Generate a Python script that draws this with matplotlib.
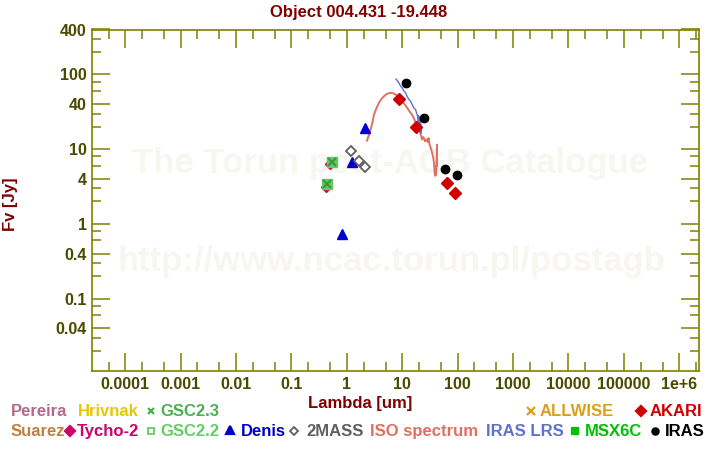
import matplotlib
matplotlib.use("Agg")
import matplotlib.pyplot as plt
from matplotlib.ticker import FixedLocator, NullFormatter, FixedFormatter
from matplotlib.lines import Line2D

plt.rcParams['font.family'] = ['Liberation Sans', 'DejaVu Sans']
plt.rcParams['font.weight'] = 'bold'

# ---------------- data ----------------
title = "Object 004.431 -19.448"

iso_wave = [2.31, 2.5, 2.69, 2.9, 3.08, 3.4, 3.78, 4.2, 4.66, 5.3, 6.14, 6.8, 7.55, 8.6,
            9.9, 11.0, 12.2, 13.5, 15.0, 16.5, 18.5, 20.5, 22.0, 22.7, 24.0, 26.0, 27.5,
            29.0, 29.9, 31.0, 32.0, 33.5, 35.2, 36.5, 37.5, 38.3, 39.0, 39.6, 40.5, 41.2,
            42.2, 42.5]
iso_flux = [13.0, 15.5, 18.3, 23.0, 29.0, 35.0, 41.7, 47.0, 51.0, 55.0, 57.0, 56.0, 54.0, 50.0,
            44.0, 40.0, 36.0, 32.0, 29.0, 25.0, 21.0, 17.5, 15.0, 13.5, 14.5, 12.7, 13.5,
            12.5, 14.1, 11.5, 10.9, 9.8, 8.5, 7.5, 6.2, 5.0, 4.4, 6.0, 4.5, 5.2,
            11.5, 6.0]

lrs_wave = [7.7, 8.2, 8.8, 9.3, 10.0, 10.7, 11.4, 12.2, 13.0, 14.0, 15.0, 16.0, 17.3,
            18.3, 19.0, 19.5, 19.8, 20.2, 20.6, 21.0, 21.4, 21.8, 22.3]
lrs_flux = [87, 82, 76, 70, 66, 60, 57, 51, 47, 44, 40, 36, 34,
            30, 27, 22, 28, 18, 26, 17, 24, 16.5, 20]

tycho_wave = [0.42, 0.49]
tycho_flux = [3.14, 6.25]
gsc22_wave = [0.443, 0.545]
gsc22_flux = [3.44, 6.8]
gsc23_wave = [0.443, 0.545]
gsc23_flux = [3.44, 6.8]
denis_wave = [0.81, 1.22, 2.12]
denis_flux = [0.73, 6.7, 19.0]
tmass_wave = [1.2, 1.67, 2.15]
tmass_flux = [9.34, 7.0, 5.82]
akari_wave = [8.8, 17.9, 65.0, 90.0]
akari_flux = [47.6, 20.0, 3.55, 2.61]
iras_wave = [11.8, 25.0, 60.0, 98.0]
iras_flux = [78.0, 26.5, 5.47, 4.55]

x_major = [1e-4, 1e-3, 1e-2, 1e-1, 1, 10, 100, 1e3, 1e4, 1e5, 1e6]
x_labels = ["0.0001", "0.001", "0.01", "0.1", "1", "10", "100", "1000", "10000", "100000", "1e+6"]
y_major = [400, 100, 40, 10, 4, 1, 0.4, 0.1, 0.04]
y_labels = ["400", "100", "40", "10", "4", "1", "0.4", "0.1", "0.04"]

# ---------------- styles ----------------
OLIVE = '#808000'
TICKTXT = '#4a4a00'
DARKRED = '#800000'
W, H = 720, 450

fig = plt.figure(figsize=(7.2, 4.5), dpi=100)
fig.patch.set_facecolor('white')

def fx(px):
    return px / W

def fy(py):
    return 1 - py / H

ax = fig.add_axes([fx(92.5), fy(371), (699 - 92.5) / W, (371 - 29.5) / H])
ax.set_xscale('log')
ax.set_yscale('log')
ax.set_xlim(10 ** -4.592, 10 ** 6.356)
ax.set_ylim(10 ** -1.97, 400)

# watermark
ax.text(0.5 + (390 - 395.75) / 606.5, 1 - (163 - 29.5) / 341.5, "The Torun post-AGB Catalogue",
        transform=ax.transAxes, ha='center', va='center', fontsize=25, color='#f8f6f0',
        fontweight='bold', zorder=0)
ax.text(0.5 + (391 - 395.75) / 606.5, 1 - (262 - 29.5) / 341.5, "http://www.ncac.torun.pl/postagb",
        transform=ax.transAxes, ha='center', va='center', fontsize=25, color='#f8f6f0',
        fontweight='bold', zorder=0)

# spectra
ax.plot(iso_wave, iso_flux, color='#e07060', lw=1.4, zorder=2)
ax.plot(lrs_wave, lrs_flux, color='#6070d8', lw=1.0, zorder=3)

# photometry
ax.plot(tycho_wave, tycho_flux, ls='none', marker='D', ms=5, color='#d0006a', zorder=4)
ax.plot(gsc22_wave, gsc22_flux, ls='none', marker='s', ms=6.5, color='#66c866', zorder=5)
ax.plot(gsc23_wave, gsc23_flux, ls='none', marker='x', ms=5.5, mew=1.6, color='#3a9a3a', zorder=6)
ax.plot(denis_wave, denis_flux, ls='none', marker='^', ms=7, color='#0000cc', zorder=5)
ax.plot(tmass_wave, tmass_flux, ls='none', marker='D', ms=5.5, mfc='white', mec='#606060',
        mew=1.3, zorder=5)
ax.plot(akari_wave, akari_flux, ls='none', marker='D', ms=6.5, color='#d00000', zorder=6)
ax.plot(iras_wave, iras_flux, ls='none', marker='o', ms=6, color='black', zorder=7)

# axes styling
for sp in ax.spines.values():
    sp.set_color(OLIVE)
    sp.set_linewidth(1.2)

x_minor = []
for e in range(-5, 7):
    for m in (2, 5):
        x_minor.append(m * 10.0 ** e)
y_minor = []
for e in range(-2, 3):
    for m in (2, 3, 6, 8):
        y_minor.append(m * 10.0 ** e)

ax.xaxis.set_major_locator(FixedLocator(x_major))
ax.xaxis.set_major_formatter(FixedFormatter(x_labels))
ax.xaxis.set_minor_locator(FixedLocator(x_minor))
ax.xaxis.set_minor_formatter(NullFormatter())
ax.yaxis.set_major_locator(FixedLocator(y_major))
ax.yaxis.set_major_formatter(FixedFormatter(y_labels))
ax.yaxis.set_minor_locator(FixedLocator(y_minor))
ax.yaxis.set_minor_formatter(NullFormatter())

ax.tick_params(which='both', direction='in', top=True, right=True, color=OLIVE, width=1.1,
               labelcolor=TICKTXT, labelsize=11.5, pad=4)
ax.tick_params(which='major', length=13)
ax.tick_params(which='minor', length=6.5)
for lab in ax.get_xticklabels() + ax.get_yticklabels():
    lab.set_fontweight('bold')

# title and axis labels
fig.text(fx(359), fy(17), title, ha='center', va='baseline', fontsize=12,
         color=DARKRED, fontweight='bold')
fig.text(fx(360), fy(408), "Lambda [um]", ha='center', va='baseline', fontsize=12,
         color=DARKRED, fontweight='bold')
fig.text(fx(10), fy(204), "Fv [Jy]", ha='center', va='center', rotation=90, fontsize=12,
         color=DARKRED, fontweight='bold')

# legend (text entries)
r1, r2 = 416, 436
legend_text = [
    ("Pereira", 11, r1, '#b06c8c'),
    ("Hrivnak", 78, r1, '#e6c800'),
    ("GSC2.3", 160, r1, '#4caf50'),
    ("ALLWISE", 540, r1, '#dca018'),
    ("AKARI", 650, r1, '#d00000'),
    ("Suarez", 11, r2, '#c08040'),
    ("Tycho-2", 77, r2, '#d0006a'),
    ("GSC2.2", 160, r2, '#66cc66'),
    ("Denis", 241, r2, '#0000cc'),
    ("2MASS", 306, r2, '#606060'),
    ("ISO spectrum", 370, r2, '#e07060'),
    ("IRAS LRS", 486, r2, '#6070d0'),
    ("MSX6C", 585, r2, '#00c000'),
    ("IRAS", 665, r2, '#000000'),
]
for s, x, y, c in legend_text:
    fig.text(fx(x), fy(y), s, ha='left', va='baseline', fontsize=12, color=c, fontweight='bold')

legend_marks = [
    ('x', 151, r1 - 5.5, '#4caf50', 5, 'full'),
    ('x', 530.5, r1 - 5.5, '#dca018', 6, 'full'),
    ('D', 640.5, r1 - 5.5, '#d00000', 5.5, 'full'),
    ('D', 70.3, r2 - 5.5, '#d0006a', 5.5, 'full'),
    ('s', 151, r2 - 5.5, '#66cc66', 4.5, 'none'),
    ('^', 229.7, r2 - 6, '#0000cc', 5.5, 'full'),
    ('D', 294, r2 - 5.5, '#606060', 4.5, 'none'),
    ('s', 575.3, r2 - 5.5, '#00c000', 5, 'full'),
    ('o', 654.5, r2 - 5.5, '#000000', 4.5, 'full'),
]
for m, x, y, c, ms, fill in legend_marks:
    if fill == 'none':
        ln = Line2D([fx(x)], [fy(y)], marker=m, ms=ms, mfc='white', mec=c, mew=1.3,
                    ls='none', transform=fig.transFigure)
    else:
        ln = Line2D([fx(x)], [fy(y)], marker=m, ms=ms, color=c, mew=1.6,
                    ls='none', transform=fig.transFigure)
    fig.add_artist(ln)

fig.savefig('out.png', dpi=100, facecolor='white')
